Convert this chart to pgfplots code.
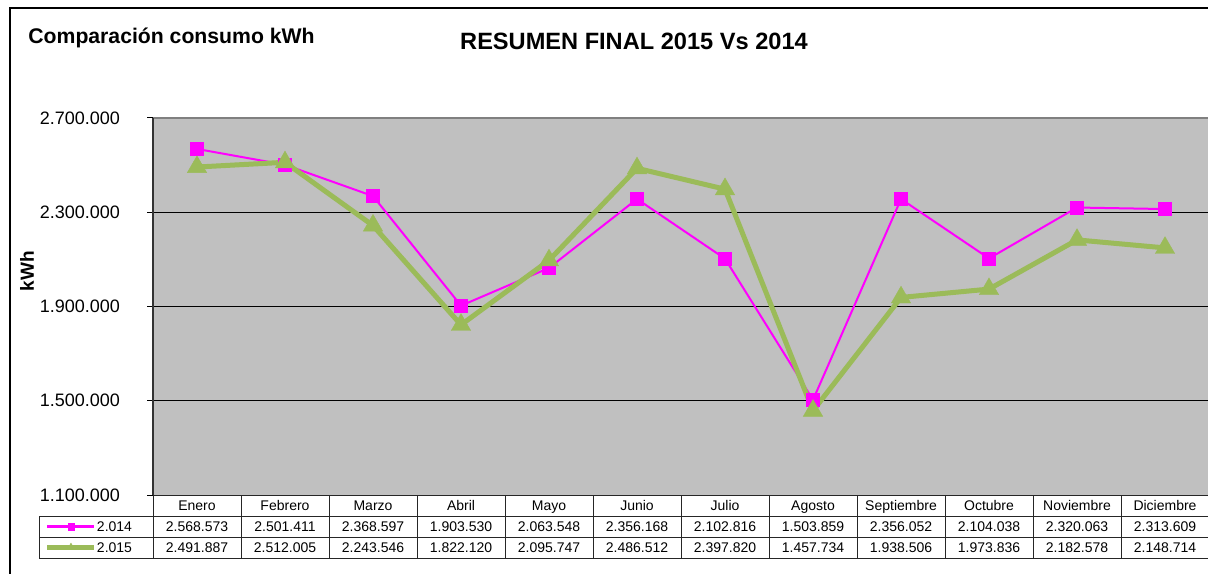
\documentclass[border=0pt]{standalone}
\usepackage{pgfplots}
\usepackage{pgfplotstable}
\pgfplotsset{compat=1.18}
\usepackage{fontspec}
\setmainfont{Liberation Sans}
\definecolor{plotbg}{HTML}{C0C0C0}
\definecolor{mag}{HTML}{FF00FF}
\definecolor{oliv}{HTML}{9BBB59}
\definecolor{topgray}{HTML}{808080}

\pgfplotstableread{
x y2014 y2015
0  2568573 2491887
1  2501411 2512005
2  2368597 2243546
3  1903530 1822120
4  2063548 2095747
5  2356168 2486512
6  2102816 2397820
7  1503859 1457734
8  2356052 1938506
9  2104038 1973836
10 2320063 2182578
11 2313609 2148714
}\datatable

\begin{document}
\begin{tikzpicture}
\useasboundingbox (0pt,0pt) rectangle (604pt,286.5pt);
\begin{axis}[
  at={(76.5pt,39pt)}, anchor=south west,
  scale only axis, width=528pt, height=188.5pt,
  xmin=-0.5, xmax=11.5, ymin=1100000, ymax=2700000,
  clip=false,
  axis background/.style={fill=plotbg},
  axis line style={draw=none},
  xtick=\empty,
  ytick={1100000,1500000,1900000,2300000,2700000},
  scaled y ticks=false,
  ymajorgrids, grid style={black, line width=0.5pt},
  tick align=outside, major tick length=3pt,
  tick style={black, line width=0.5pt},
  yticklabel style={font=\fontsize{9}{10}\selectfont, xshift=-10pt},
  /pgf/number format/.cd, fixed, 1000 sep={.}, assume math mode=true,
  /pgfplots/.cd,
  legend image code/.code={\draw[mark repeat=2,mark phase=2,#1] plot coordinates {(0pt,0pt) (11.75pt,0pt) (23.5pt,0pt)};},
  legend style={at={(rel axis cs:-0.1023,-0.0557)}, anchor=north west, draw=none, fill=none,
    inner sep=0pt, outer sep=0pt, row sep=0pt,
    nodes={font=\fontsize{7}{8}\selectfont, inner sep=0pt, minimum height=10.5pt, text depth=0pt, xshift=3pt}},
  legend cell align=left,
]
\addplot[mag, line width=1pt, mark=square*, mark size=3.3pt,
  mark options={solid, fill=mag, draw=mag, line width=0.2pt},
  legend image post style={mark size=1.6pt}] table[x=x, y=y2014] {\datatable};
\addlegendentry{2.014}
\addplot[oliv, line width=2.5pt, mark=triangle*, mark size=5.6pt,
  mark options={solid, fill=oliv, draw=oliv, line width=0.2pt},
  legend image post style={mark size=2.2pt}] table[x=x, y=y2015] {\datatable};
\addlegendentry{2.015}
\draw[topgray, line width=0.8pt] (rel axis cs:0,1) -- (rel axis cs:1,1);
\draw[black!80, line width=0.6pt] (rel axis cs:0,0) -- (rel axis cs:0,1);
\end{axis}
\begin{scope}[x=0.5pt,y=0.5pt]
\clip (0,0) rectangle (1208,573);
% frame
\draw[black, line width=1.2pt] (10,-20) -- (10,565) -- (1230,565);
% titles
\node[anchor=base west, inner sep=0pt, font=\bfseries\fontsize{10.6}{12}\selectfont] at (28,573-44) {Comparación consumo kWh};
\node[anchor=base, inner sep=0pt, font=\bfseries\fontsize{11.8}{13}\selectfont] at (634,573-50) {RESUMEN FINAL 2015 Vs 2014};
\node[rotate=90, inner sep=0pt, font=\bfseries\fontsize{9.5}{11}\selectfont] at (27,573-271) {kWh};
% data table
\begin{scope}[black!85, line width=0.5pt]
\draw (153,573-495) -- (1215,573-495);
\draw (39,573-516) -- (1215,573-516);
\draw (39,573-537) -- (1215,573-537);
\draw (39,573-558) -- (1215,573-558);
\draw (39,573-516) -- (39,573-558);
\foreach \k in {0,...,12} {\draw ({153+88*\k},573-495) -- ({153+88*\k},573-558);}
\end{scope}
\foreach \m/\a/\b [count=\i from 0] in {Enero/2.568.573/2.491.887, Febrero/2.501.411/2.512.005, Marzo/2.368.597/2.243.546, Abril/1.903.530/1.822.120, Mayo/2.063.548/2.095.747, Junio/2.356.168/2.486.512, Julio/2.102.816/2.397.820, Agosto/1.503.859/1.457.734, Septiembre/2.356.052/1.938.506, Octubre/2.104.038/1.973.836, Noviembre/2.320.063/2.182.578, Diciembre/2.313.609/2.148.714} {
  \node[anchor=base, font=\fontsize{7}{8}\selectfont, inner sep=0pt] at ({197+88*\i},573-510) {\m};
  \node[anchor=base, font=\fontsize{7}{8}\selectfont, inner sep=0pt] at ({197+88*\i},573-531) {\a};
  \node[anchor=base, font=\fontsize{7}{8}\selectfont, inner sep=0pt] at ({197+88*\i},573-552) {\b};
}
\end{scope}
\end{tikzpicture}
\end{document}
